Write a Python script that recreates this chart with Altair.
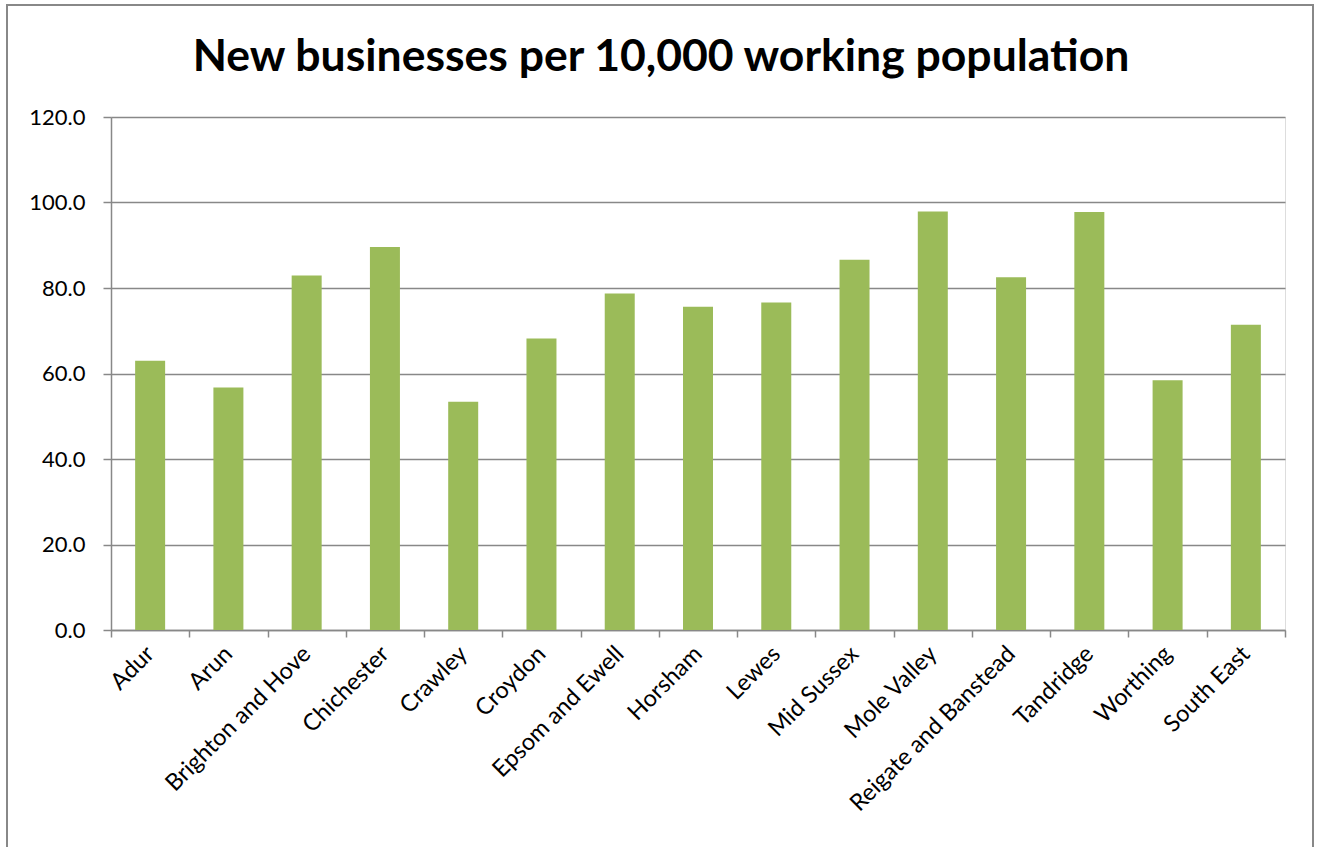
import altair as alt
import pandas as pd

areas = ["Adur", "Arun", "Brighton and Hove", "Chichester", "Crawley", "Croydon",
         "Epsom and Ewell", "Horsham", "Lewes", "Mid Sussex", "Mole Valley",
         "Reigate and Banstead", "Tandridge", "Worthing", "South East"]
values = [63.0, 56.7, 82.9, 89.6, 53.4, 68.2, 78.7, 75.6, 76.6, 86.6, 97.9, 82.5, 97.8, 58.4, 71.4]
y_ticks = [0, 20, 40, 60, 80, 100, 120]

df = pd.DataFrame({"area": areas, "value": values})

FONT = "Lato"
GRAY = "#888888"

bars = alt.Chart(df).mark_bar(color="#9BBB59", size=30).encode(
    x=alt.X("area:N", sort=areas, title=None,
            scale=alt.Scale(paddingInner=0, paddingOuter=0),
            axis=alt.Axis(labelAngle=-45, labelAlign="right", labelBaseline="middle",
                          labelFont=FONT, labelFontSize=23.5, labelColor="#000000",
                          labelPadding=13, labelLimit=0, tickSize=7, tickBand="extent",
                          tickColor=GRAY, tickWidth=1.5, domainColor=GRAY,
                          domainWidth=1.5, grid=False, labelOverlap=False)),
    y=alt.Y("value:Q", title=None,
            scale=alt.Scale(domain=[0, 120], nice=False),
            axis=alt.Axis(values=y_ticks, format=".1f", labelFont=FONT,
                          labelFontSize=22, labelColor="#000000", labelPadding=18,
                          tickSize=8, tickColor=GRAY, tickWidth=1.5,
                          domainColor=GRAY, domainWidth=1.5,
                          grid=True, gridColor=GRAY, gridWidth=1.5)),
)

border = alt.Chart(pd.DataFrame({"k": [0]})).mark_rect(
    fill=None, stroke=GRAY, strokeWidth=2
).encode(x=alt.value(-104), x2=alt.value(1202), y=alt.value(-112), y2=alt.value(760))

chart = alt.layer(bars, border).properties(
    width=1174, height=513,
    title=alt.TitleParams("New businesses per 10,000 working population",
                          font=FONT, fontSize=44.5, fontWeight="bold", color="#000000",
                          anchor="middle", frame="group", dx=-37, offset=-111,
                          baseline="alphabetic"),
    autosize=alt.AutoSizeParams(type="none"),
    padding={"left": 111, "top": 117, "right": 34, "bottom": 217},
).configure_view(stroke=None).configure(background="white")

chart.save("out.html", embed_options={"renderer": "svg", "actions": False})
